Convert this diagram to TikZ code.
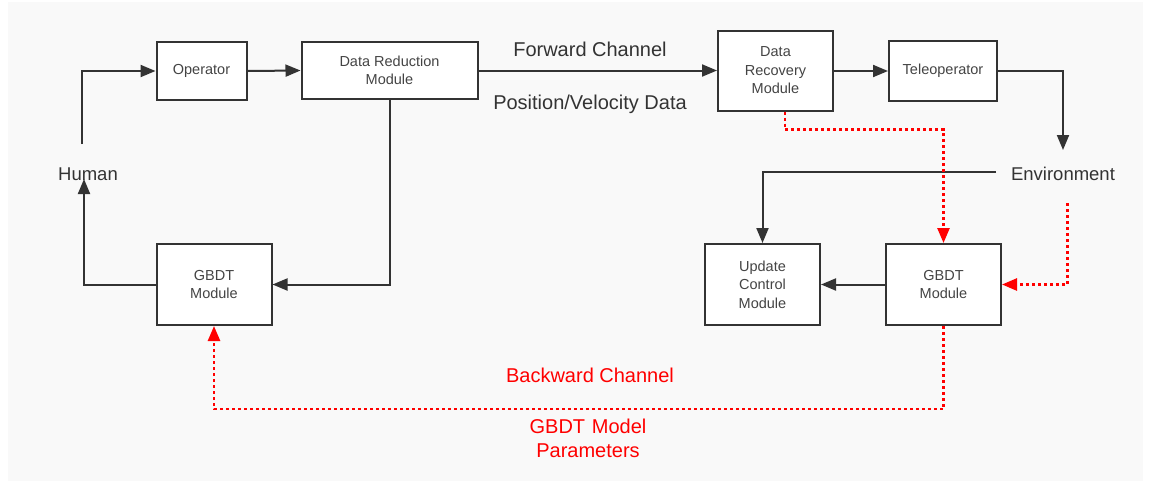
\documentclass[tikz,border=0pt]{standalone}
\usepackage{fontspec}
\setmainfont{Liberation Sans}
\usetikzlibrary{arrows.meta}
\definecolor{bg}{HTML}{F9F9F9}
\definecolor{ink}{HTML}{333333}
\definecolor{txt}{HTML}{444444}
\definecolor{rd}{HTML}{FF0000}
\tikzset{
  box/.style={draw=ink, line width=2pt, fill=white, rectangle, align=center, text=txt,
    font=\fontsize{14.5}{18.5}\selectfont, inner sep=0pt},
  lbl/.style={text=ink, font=\fontsize{18.5}{22}\selectfont, inner sep=0pt},
  chan/.style={text=ink, font=\fontsize{20}{24}\selectfont, inner sep=0pt},
  rlbl/.style={text=rd, font=\fontsize{20}{24}\selectfont, inner sep=0pt, align=center},
  arr/.style={draw=ink, line width=2pt, -{Triangle[length=15pt,width=12pt]}},
  rarr/.style={draw=rd, line width=2.5pt, dash pattern=on 3pt off 3pt, -{Triangle[length=15pt,width=12pt]}},
}
\begin{document}
\begin{tikzpicture}[x=1pt,y=-1pt]
\useasboundingbox (0,0) rectangle (1154,483);
\fill[white] (0,0) rectangle (1154,483);
\fill[bg] (8,2) rectangle (1143,481);
% nodes
\node[box, minimum width=90pt, minimum height=58pt] (op) at (201.5,71) {Operator};
\node[box, minimum width=176pt, minimum height=57pt] (red) at (389.5,70.5) {Data Reduction\\Module};
\node[box, minimum width=115pt, minimum height=80pt] (rec) at (775.5,70.5) {Data\\Recovery\\Module};
\node[box, minimum width=108pt, minimum height=60pt] (tel) at (943,71) {Teleoperator};
\node[box, minimum width=115pt, minimum height=81pt] (gl) at (214,284.5) {GBDT\\Module};
\node[box, minimum width=115pt, minimum height=81pt] (upd) at (762.5,284.5) {Update\\Control\\Module};
\node[box, minimum width=115pt, minimum height=81pt] (gr) at (943.5,284.5) {GBDT\\Module};
\node[lbl] (human) at (88,174) {Human};
\node[lbl] (env) at (1063,174) {Environment};
\node[chan] (fwd) at (590,49) {Forward Channel};
\node[chan] (pvd) at (590,104) {Position/Velocity Data};
\node[rlbl] (bwd) at (590,375) {Backward Channel};
\node[rlbl, text width=200pt] (gmp) at (588,438) {GBDT Model\\Parameters};
% free ends
\coordinate (h1) at (82,144);
\coordinate (h2) at (84,179);
\coordinate (e1) at (1063,150);
\coordinate (e2) at (996,172);
\coordinate (e3) at (1067.5,203);
% black connectors
\draw[arr] (h1) |- (op.west);
\draw[arr] (op.east) -- (red.west);
\draw[arr] (red.east) -- (red.east -| rec.west);
\draw[arr] (rec.east |- tel.west) -- (tel.west);
\draw[arr] (tel.east) -| (e1);
\draw[arr] (e2) -| (upd.north);
\draw[arr] (red.south) |- (gl.east);
\draw[arr] (gl.west) -| (h2);
\draw[arr] (gr.west) -- (upd.east);
% red dotted connectors
\draw[rarr] ([xshift=9.5pt]rec.south) -- ++(0,18) -| (gr.north);
\draw[rarr] (e3) |- (gr.east);
\draw[rarr] (gr.south) -- ++(0,83) -| (gl.south);
\end{tikzpicture}
\end{document}
